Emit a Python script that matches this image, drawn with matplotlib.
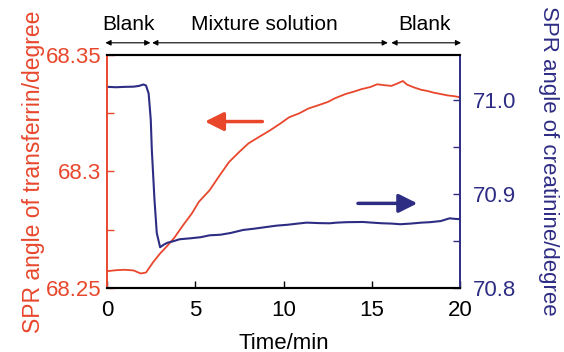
import matplotlib.pyplot as plt
import numpy as np

plt.rcParams['font.family'] = ['Liberation Sans', 'DejaVu Sans']

RED = '#e8472c'
BLUE = '#2e2d84'

# transferrin (left axis)
t_red = [0, 0.5, 1.0, 1.5, 1.9, 2.2, 2.6, 3.0, 3.4, 3.8, 4.3, 4.8, 5.2, 5.8, 6.3,
         6.9, 7.5, 8.0, 8.6, 9.2, 9.8, 10.3, 10.9, 11.4, 12.0, 12.5, 12.9, 13.5,
         14.0, 14.4, 14.9, 15.3, 15.7, 16.1, 16.4, 16.75, 17.0, 17.4, 17.8, 18.1,
         18.5, 18.9, 19.3, 19.65, 20.0]
v_red = [68.2572, 68.2576, 68.2578, 68.2575, 68.2562, 68.2566, 68.2610, 68.2648,
         68.2680, 68.2715, 68.2769, 68.2820, 68.2870, 68.2919, 68.2975, 68.3040,
         68.3085, 68.3120, 68.3148, 68.3175, 68.3205, 68.3232, 68.3250, 68.3270,
         68.3285, 68.3298, 68.3314, 68.3332, 68.3343, 68.3353, 68.3362, 68.3374,
         68.3370, 68.3367, 68.3376, 68.3388, 68.3372, 68.3360, 68.3350, 68.3346,
         68.3338, 68.3332, 68.3326, 68.3323, 68.3318]

# creatinine (right axis)
t_blue = [0, 0.5, 1.0, 1.5, 1.8, 2.05, 2.2, 2.35, 2.47, 2.53, 2.68, 2.81, 3.0, 3.2,
          3.4, 3.8, 4.1, 4.7, 5.3, 5.8, 6.4, 7.0, 7.7, 8.3, 9.0, 9.6, 10.2, 10.8,
          11.3, 12.0, 12.6, 13.0, 13.6, 14.5, 15.0, 15.6, 16.1, 16.6, 17.2, 17.8,
          18.3, 18.9, 19.4, 19.7, 20.0]
v_blue = [71.0140, 71.0136, 71.0140, 71.0142, 71.0150, 71.0165, 71.0155, 71.0070,
          70.9790, 70.9470, 70.8940, 70.8585, 70.8433, 70.8460, 70.8480, 70.8500,
          70.8518, 70.8528, 70.8540, 70.8560, 70.8566, 70.8585, 70.8617, 70.8630,
          70.8648, 70.8663, 70.8672, 70.8685, 70.8695, 70.8690, 70.8688, 70.8695,
          70.8700, 70.8702, 70.8695, 70.8688, 70.8685, 70.8678, 70.8685, 70.8695,
          70.8700, 70.8712, 70.8741, 70.8735, 70.8732]

left_ticks = [68.25, 68.275, 68.3, 68.325, 68.35]
left_labels = ['68.25', '', '68.3', '', '68.35']
right_ticks = [70.8, 70.85, 70.9, 70.95, 71.0]
right_labels = ['70.8', '', '70.9', '', '71.0']
x_ticks = [0, 5, 10, 15, 20]

phases = ['Blank', 'Mixture solution', 'Blank']
phase_start = [-0.1, 2.55, 16.1]
phase_end = [2.45, 15.9, 20.05]
phase_text_x = [1.2, 8.9, 17.95]

fig = plt.figure(figsize=(5.64, 3.52), dpi=100)
ax = fig.add_axes([0.19, 0.182, 0.626, 0.662])
ax2 = ax.twinx()

ax.plot(t_red, v_red, color=RED, lw=1.3)
ax2.plot(t_blue, v_blue, color=BLUE, lw=1.5)

ax.set_xlim(0, 20)
ax.set_ylim(68.25, 68.35)
ax2.set_ylim(70.8, 71.048)

ax.set_xticks(x_ticks)
ax.set_yticks(left_ticks)
ax.set_yticklabels(left_labels)
ax2.set_yticks(right_ticks)
ax2.set_yticklabels(right_labels)

ax.tick_params(axis='x', direction='in', length=5, width=1, labelsize=16, pad=9)
ax.tick_params(axis='y', direction='in', length=5, width=1, colors=RED, labelsize=16, pad=4)
ax2.tick_params(axis='y', direction='in', length=5, width=1, colors=BLUE, labelsize=16, pad=9)

for a in (ax, ax2):
    a.spines['top'].set_color('black')
    a.spines['bottom'].set_color('black')
    a.spines['top'].set_linewidth(1.5)
    a.spines['bottom'].set_linewidth(1.5)
    a.spines['left'].set_color(RED)
    a.spines['right'].set_color(BLUE)
    a.spines['left'].set_linewidth(1.2)
    a.spines['right'].set_linewidth(1.2)

ax.set_xlabel('Time/min', fontsize=16, labelpad=8)
ax.set_ylabel('SPR angle of transferrin/degree', fontsize=16.5, color=RED, labelpad=1)
ax2.set_ylabel('SPR angle of creatinine/degree', fontsize=16, color=BLUE,
               rotation=270, va='center')
ax2.yaxis.set_label_coords(1.25, 0.545)

# direction arrows
ax.annotate('', xy=(5.38, 68.3214), xytext=(8.95, 68.3214),
            arrowprops=dict(arrowstyle='-|>', color=RED, lw=2.5, mutation_scale=28))
ax2.annotate('', xy=(17.73, 70.890), xytext=(14.05, 70.890),
             arrowprops=dict(arrowstyle='-|>', color=BLUE, lw=2.5, mutation_scale=28))

# phase annotations above the plot
trans = ax.get_xaxis_transform()
for name, s, e, tx in zip(phases, phase_start, phase_end, phase_text_x):
    ax.annotate('', xy=(s, 1.052), xytext=(e, 1.052), xycoords=trans, textcoords=trans,
                arrowprops=dict(arrowstyle='<|-|>', color='black', lw=0.8,
                                mutation_scale=8, shrinkA=0, shrinkB=0))
    ax.text(tx, 1.09, name, transform=trans, ha='center', va='bottom', fontsize=15)

fig.savefig('out.png', dpi=100)
